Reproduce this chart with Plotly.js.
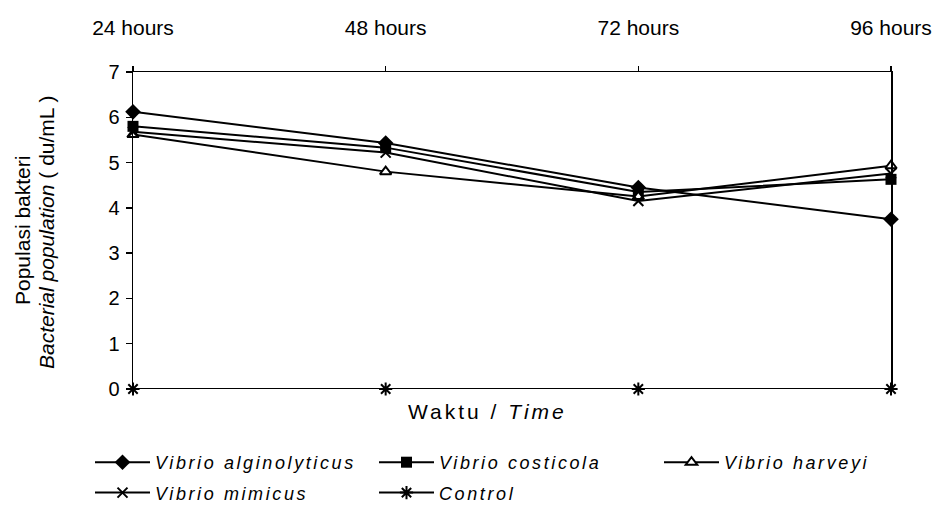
<!DOCTYPE html>
<html><head><meta charset="utf-8">
<script src="https://cdn.plot.ly/plotly-3.0.1.min.js"></script>
<style>body{margin:0;background:#fff}#c{width:943px;height:514px}
text.legendtext{letter-spacing:2.6px}
#c .infolayer [clip-path]{clip-path:none !important}
g.annotation[data-index="0"] text{letter-spacing:3px}</style>
</head><body><div id="c"></div>
<script>
const times = ["24 hours","48 hours","72 hours","96 hours"];
const seriesNames = ["Vibrio alginolyticus","Vibrio costicola","Vibrio harveyi","Vibrio mimicus","Control"];
const alginolyticus = [6.12, 5.43, 4.45, 3.75];
const costicola = [5.80, 5.33, 4.35, 4.63];
const harveyi = [5.62, 4.80, 4.25, 4.93];
const mimicus = [5.68, 5.22, 4.15, 4.76];
const control = [0, 0, 0, 0];
const yTicks = [0,1,2,3,4,5,6,7];

const F = '"Liberation Sans", Arial, sans-serif';
const mk = (y, name, marker, legend, i) => ({
  x: times, y: y, name: '<i>' + name + '</i>', type: 'scatter', mode: 'lines+markers',
  line: {color: '#000', width: 2}, marker: marker, cliponaxis: false,
  legend: legend, legendrank: i, legendgroup: name
});
const data = [
  mk(alginolyticus, seriesNames[0], {symbol: 'diamond', size: 12, color: '#000'}, 'legend', 1),
  mk(costicola, seriesNames[1], {symbol: 'square', size: 11, color: '#000'}, 'legend2', 1),
  mk(harveyi, seriesNames[2], {symbol: 'triangle-up', size: 10, color: '#fff', line: {color: '#000', width: 2}}, 'legend3', 1),
  mk(mimicus, seriesNames[3], {symbol: 'x-thin-open', size: 10, color: '#000', line: {color: '#000', width: 2}}, 'legend', 2),
  mk(control, seriesNames[4], {symbol: 'asterisk-open', size: 11, color: '#000', line: {color: '#000', width: 2}}, 'legend2', 2)
];
const W = 758, H = 317, L = 133, T = 72;
const px = v => (v - L) / W;
const py = v => (T + H - v) / H;
const legBase = {
  orientation: 'v', yanchor: 'top', xanchor: 'left', y: py(444),
  font: {family: F, size: 18, color: '#000'}, itemwidth: 55, bgcolor: 'rgba(0,0,0,0)',
  traceorder: 'grouped', tracegroupgap: 4, itemclick: false
};
const layout = {
  width: 943, height: 514,
  margin: {l: L, r: 943 - L - W, t: T, b: 514 - T - H, autoexpand: false},
  paper_bgcolor: '#fff', plot_bgcolor: '#fff',
  font: {family: F, size: 21, color: '#000'},
  showlegend: true,
  xaxis: {
    type: 'category', side: 'top', range: [0, 3], showgrid: false, zeroline: false,
    showline: true, linecolor: '#000', linewidth: 1.5, automargin: false,
    ticks: 'outside', ticklen: 5, tickwidth: 1.5, tickcolor: '#000',
    ticklabelstandoff: 22, tickfont: {family: F, size: 21, color: '#000'}
  },
  yaxis: {
    range: [0, 7], tickvals: yTicks, showgrid: false, zeroline: false,
    showline: true, mirror: true, linecolor: '#000', linewidth: 1.5, automargin: false,
    ticks: 'outside', ticklen: 6, tickwidth: 1.5, tickcolor: '#000',
    tickfont: {family: F, size: 20, color: '#000'}, ticklabelstandoff: 2
  },
  legend: Object.assign({}, legBase, {x: px(90)}),
  legend2: Object.assign({}, legBase, {x: px(374)}),
  legend3: Object.assign({}, legBase, {x: px(659)}),
  annotations: [
    {text: 'Waktu / <i>Time</i>', xref: 'paper', yref: 'paper', x: px(487), y: py(411),
     showarrow: false, font: {family: F, size: 21, color: '#000'}, xanchor: 'center', yanchor: 'middle'},
    {text: 'Populasi bakteri', xref: 'paper', yref: 'paper', x: px(22), y: py(230), textangle: -90,
     showarrow: false, font: {family: F, size: 21, color: '#000'}, xanchor: 'center', yanchor: 'middle'},
    {text: '<i>Bacterial population</i> ( du/mL )', xref: 'paper', yref: 'paper', x: px(46), y: py(232), textangle: -90,
     showarrow: false, font: {family: F, size: 21, color: '#000'}, xanchor: 'center', yanchor: 'middle'}
  ]
};
const spread = () => document.querySelectorAll('#c .infolayer text').forEach(t => {
  if (/Vibrio|Control/.test(t.textContent)) t.style.letterSpacing = '2.6px';
});
Plotly.newPlot('c', data, layout, {displayModeBar: false, staticPlot: true}).then(() => {
  spread(); setTimeout(spread, 50); setTimeout(spread, 300);
});
</script></body></html>
